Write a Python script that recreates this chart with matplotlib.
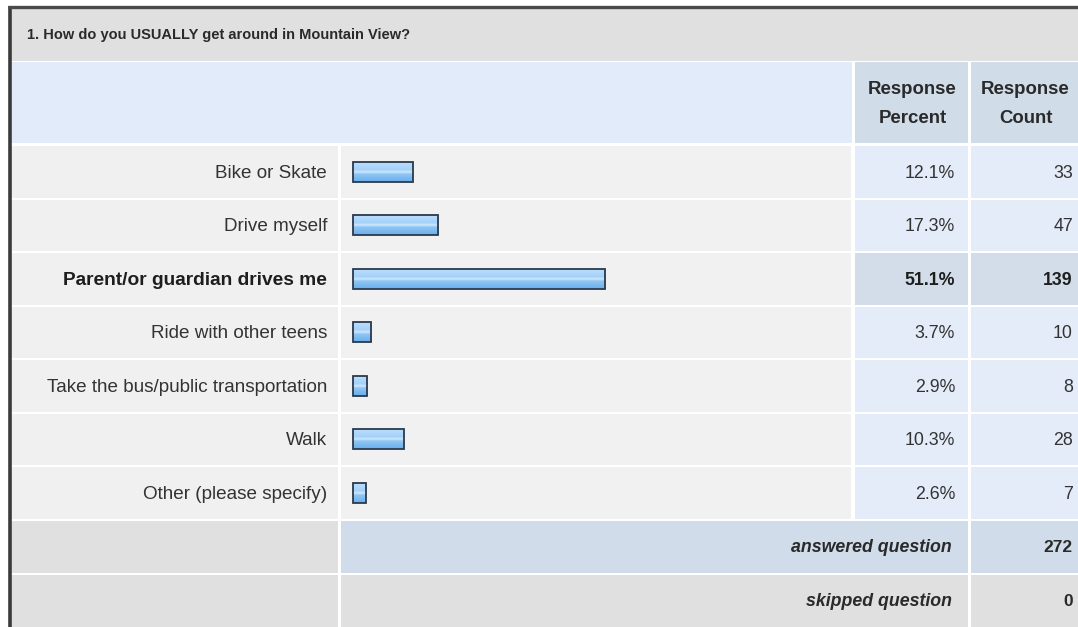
import matplotlib
matplotlib.use("Agg")
import matplotlib.pyplot as plt
import numpy as np
from matplotlib.patches import Rectangle
from matplotlib.colors import LinearSegmentedColormap

# ---- data ----
title = "1. How do you USUALLY get around in Mountain View?"
categories = ["Bike or Skate", "Drive myself", "Parent/or guardian drives me",
              "Ride with other teens", "Take the bus/public transportation",
              "Walk", "Other (please specify)"]
percents = [12.1, 17.3, 51.1, 3.7, 2.9, 10.3, 2.6]
counts = [33, 47, 139, 10, 8, 28, 7]
highlight = 2
answered = 272
skipped = 0
header_cols = ["Response\nPercent", "Response\nCount"]

plt.rcParams['font.family'] = ['Liberation Sans', 'DejaVu Sans']

W, H = 1078, 627
fig = plt.figure(figsize=(W / 100, H / 100), dpi=100)
fig.patch.set_facecolor("white")

bg = fig.add_axes([0, 0, 1, 1])
bg.set_xlim(0, W)
bg.set_ylim(H, 0)
bg.axis("off")

def cell(x0, x1, y0, y1, color):
    bg.add_patch(Rectangle((x0, y0), x1 - x0, y1 - y0, facecolor=color,
                           edgecolor="none", zorder=1))

# column edges (pixels)
L0, L1 = 11, 338
B0, B1 = 341, 851
P0, P1 = 855, 968
C0, C1 = 971, W
TOP = 8
ROW0 = 145
ROWH = 53.5
n = len(categories)
BODY_END = ROW0 + n * ROWH
FOOT1 = BODY_END + 1.5
FOOT2 = FOOT1 + 53.5

# outer frame
bg.plot([9.5, 9.5], [6, H], color="#3a3a3a", lw=2.6, zorder=5, solid_capstyle="butt")
bg.plot([8, W], [6.5, 6.5], color="#4a4a4a", lw=2.4, zorder=5, solid_capstyle="butt")

# title bar
cell(L0, W, TOP + 1, 61, "#e0e0e0")
bg.text(27, 35, title, fontsize=10.5, fontweight="bold", color="#2a2a2a",
        va="center", ha="left", zorder=6)

# header row
cell(L0, B1 + 1, 62, 143, "#e1ebf9")
cell(P0, P1, 62, 143, "#d1dce9")
cell(C0, C1, 62, 143, "#d1dce9")
for (xa, xb), lab in zip([(P0, P1), (C0, C1)], header_cols):
    bg.text((xa + xb) / 2 + 1, 104, lab, fontsize=13.4, fontweight="bold",
            color="#2a2a2a", ha="center", va="center", linespacing=1.95, zorder=6)

# body rows
for i, (cat, p, c) in enumerate(zip(categories, percents, counts)):
    y0 = ROW0 + i * ROWH + 1
    y1 = ROW0 + (i + 1) * ROWH - 1
    yc = (y0 + y1) / 2 + 1.5
    hl = (i == highlight)
    cell(L0, L1, y0, y1, "#f0f0f0")
    cell(B0, B1, y0, y1, "#f1f1f1")
    cell(P0, P1, y0, y1, "#d2dde9" if hl else "#e3ecf8")
    cell(C0, C1, y0, y1, "#d2dde9" if hl else "#e3ecf8")
    fw = "bold" if hl else "normal"
    col = "#1e1e1e" if hl else "#333333"
    bg.text(327, yc, cat, fontsize=13.8 if hl else 13.6, fontweight=fw, color=col,
            ha="right", va="center", zorder=6)
    bg.text(955, yc, f"{p:.1f}%", fontsize=12.8, fontweight=fw, color=col,
            ha="right", va="center", zorder=6)
    bg.text(1073, yc, f"{c}", fontsize=12.8, fontweight=fw, color=col,
            ha="right", va="center", zorder=6)

# footer rows
cell(L0, L1, FOOT1, FOOT2 - 1.5, "#e0e0e0")
cell(B0, P1, FOOT1, FOOT2 - 1.5, "#d0dcea")
cell(C0, C1, FOOT1, FOOT2 - 1.5, "#d0dcea")
cell(L0, L1, FOOT2, H, "#e0e0e0")
cell(B0, P1, FOOT2, H, "#e0e0e0")
cell(C0, C1, FOOT2, H, "#e0e0e0")
for ya, yb, lab, val in [(FOOT1, FOOT2 - 1.5, "answered question", answered),
                         (FOOT2, H, "skipped question", skipped)]:
    yc = (ya + yb) / 2 + 1
    bg.text(952, yc, lab, fontsize=12.8, fontweight="bold", style="italic",
            color="#2a2a2a", ha="right", va="center", zorder=6)
    bg.text(1073, yc, f"{val}", fontsize=12.5, fontweight="bold",
            color="#2a2a2a", ha="right", va="center", zorder=6)

# bar axes in the bar column
ax = fig.add_axes([B0 / W, 1 - BODY_END / H, (B1 - B0) / W, (BODY_END - ROW0) / H])
ax.set_facecolor("none")
ax.axis("off")
y = np.arange(n)
bars = ax.barh(y, percents, height=0.37, left=0, color="none",
               edgecolor="#2b3a4e", linewidth=1.3, zorder=4)

cmap = LinearSegmentedColormap.from_list(
    "bar", [(0.0, "#bcdffc"), (0.38, "#a3d1f9"), (0.5, "#d2e9fe"),
            (0.6, "#8ec6f4"), (1.0, "#6aaeeb")])
grad = np.linspace(0, 1, 64).reshape(-1, 1)
for b in bars:
    x0, y0 = b.get_x(), b.get_y()
    w, h = b.get_width(), b.get_height()
    im = ax.imshow(grad, cmap=cmap, aspect="auto", extent=(x0, x0 + w, y0 + h, y0),
                   zorder=3, interpolation="bilinear")
    im.set_clip_path(b)
ax.set_xlim(-2.4, 101)
ax.set_ylim(n - 0.5, -0.5)

fig.savefig("out.png", dpi=100, facecolor="white")
